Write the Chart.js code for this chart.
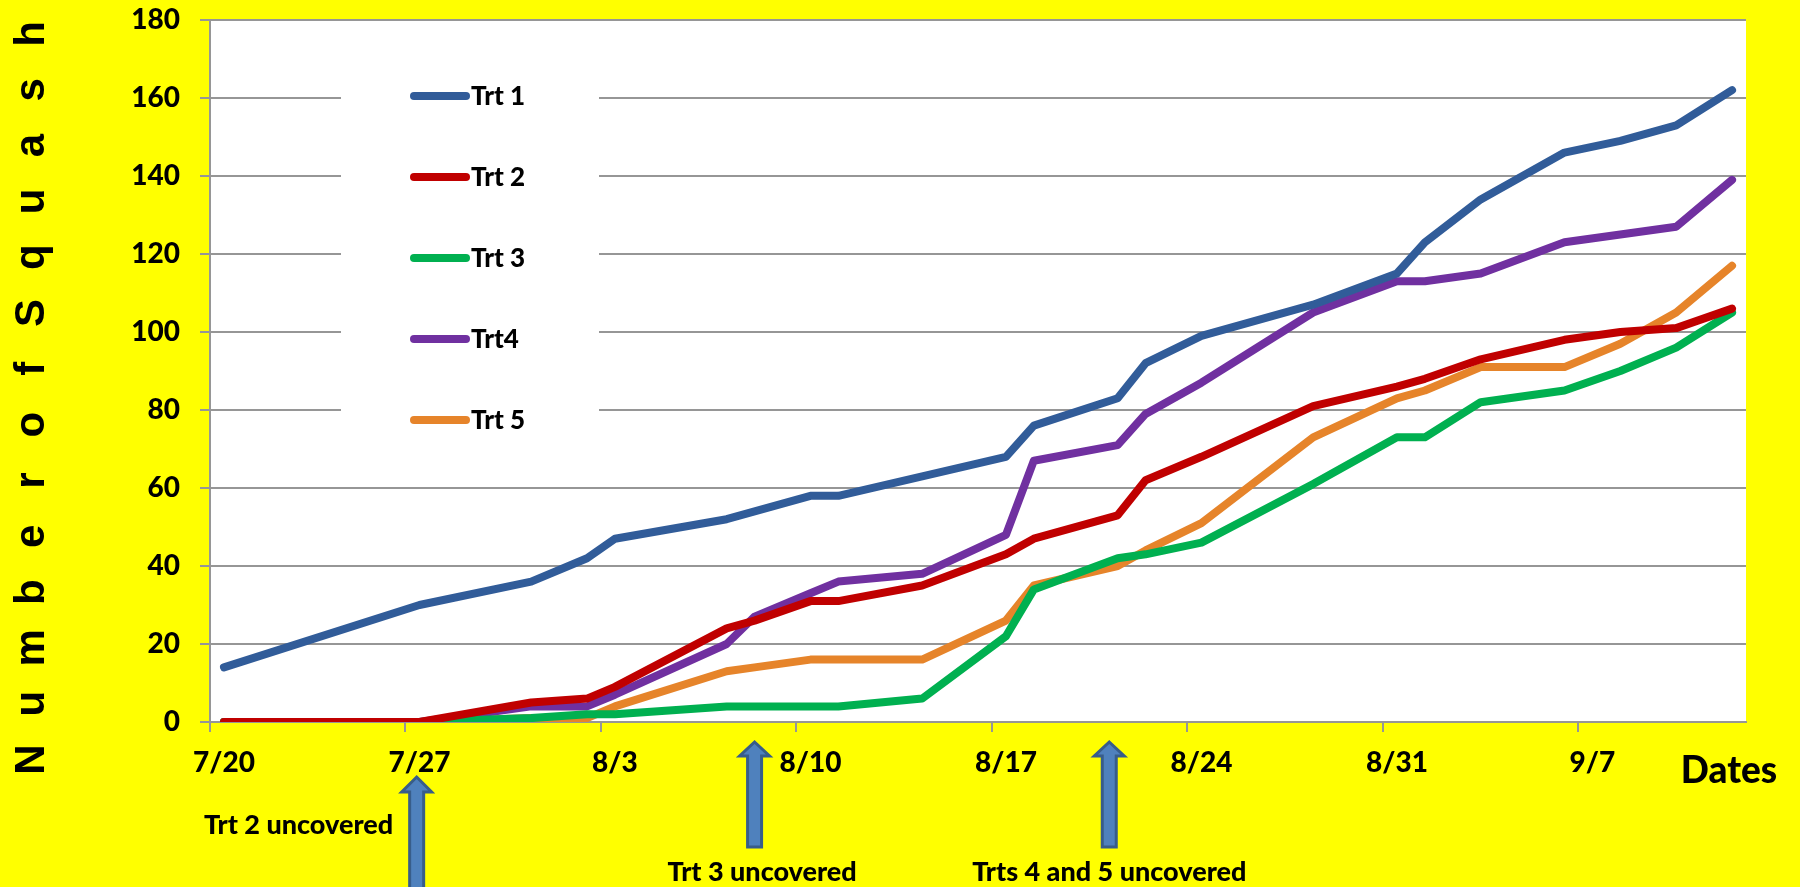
<!DOCTYPE html>
<html>
<head>
<meta charset="utf-8">
<script src="https://cdn.jsdelivr.net/npm/chart.js@4"></script>
<style>
  html, body { margin: 0; padding: 0; background: #FFFF00; }
  #wrap { width: 1800px; height: 887px; position: relative; }
  canvas { display: block; }
</style>
</head>
<body>
<div id="wrap"><canvas id="squash" width="1800" height="887"></canvas></div>
<script>
// Harvest dates (count taken on each date)
const sampleDates = ['7/20','7/27','7/31','8/2','8/3','8/7','8/8','8/10','8/11','8/14','8/17','8/18',
                     '8/21','8/22','8/24','8/28','8/31','9/1','9/3','9/6','9/8','9/10','9/12'];

// Cumulative number of squash per treatment
const trt1 = [14,30,36,42,47,52,54,58,58,63,68,76,83,92,99,107,115,123,134,146,149,153,162];
const trt2 = [0,0,5,6,9,24,26,31,31,35,43,47,53,62,68,81,86,88,93,98,100,101,106];
const trt3 = [0,0,1,2,2,4,4,4,4,6,22,34,42,43,46,61,73,73,82,85,90,96,105];
const trt4 = [0,0,4,4,7,20,27,33,36,38,48,67,71,79,87,105,113,113,115,123,125,127,139];
const trt5 = [0,0,1,1,4,13,14,16,16,16,26,35,40,44,51,73,83,85,91,91,97,105,117];

const seriesNames  = ['Trt 1','Trt 2','Trt 3','Trt4','Trt 5'];
const seriesValues = [trt1, trt2, trt3, trt4, trt5];
const seriesColors = ['#315C99','#C00000','#00B050','#7030A0','#E6842A'];

// Day-by-day axis from 7/20 to 9/12, labelled weekly
const axisStart = new Date(2012, 6, 20);
const axisDayCount = 55;
const labelEvery = 7;
const axisDays = [];
for (let i = 0; i < axisDayCount; i++) {
  const d = new Date(axisStart.getFullYear(), axisStart.getMonth(), axisStart.getDate() + i);
  axisDays.push((d.getMonth() + 1) + '/' + d.getDate());
}

const yMin = 0, yMax = 180, yStep = 20;

// Cover-removal notes: arrow position in axis-day units, text centre in axis-day units
const notes = [
  { text: 'Trt 2 uncovered',        arrowDay: 6.9,  textDay: 2.67,  tipY: 777, headY: 792, footY: 890, textY: 825 },
  { text: 'Trt 3 uncovered',        arrowDay: 19.0, textDay: 19.27, tipY: 742, headY: 756, footY: 847, textY: 872 },
  { text: 'Trts 4 and 5 uncovered', arrowDay: 31.7, textDay: 31.7,  tipY: 742, headY: 756, footY: 847, textY: 872 }
];

const FONT = 'Lato, "Open Sans", sans-serif';
const WEIGHT = '900';
const GRID = '#969696';

const plotBackground = {
  id: 'plotBackground',
  beforeDraw(chart) {
    const { ctx, chartArea: a } = chart;
    ctx.save();
    ctx.fillStyle = '#FFFFFF';
    ctx.fillRect(a.left, a.top, a.right - a.left, a.bottom - a.top);
    ctx.restore();
  }
};

const boxedLegend = {
  id: 'boxedLegend',
  beforeDatasetsDraw(chart) {
    const { ctx } = chart;
    ctx.save();
    ctx.fillStyle = '#FFFFFF';
    ctx.fillRect(341, 56, 258, 404);
    chart.data.datasets.forEach((ds, i) => {
      const y = 96 + i * 81;
      ctx.strokeStyle = ds.borderColor;
      ctx.lineWidth = 8;
      ctx.lineCap = 'round';
      ctx.beginPath();
      ctx.moveTo(414, y);
      ctx.lineTo(466, y);
      ctx.stroke();
      ctx.fillStyle = '#000';
      ctx.font = WEIGHT + ' 26px ' + FONT;
      ctx.textAlign = 'left';
      ctx.textBaseline = 'middle';
      ctx.fillText(ds.label, 471, y + 1);
    });
    ctx.restore();
  }
};

const chartNotes = {
  id: 'chartNotes',
  afterDraw(chart) {
    const { ctx } = chart;
    const xs = chart.scales.x;
    ctx.save();

    // vertical axis title, one letter per slot
    const title = 'Number of Squash';
    const letters = title.replace(/ /g, '').split('');
    const yFirst = 759.5, yLast = 34;
    const stepY = (yFirst - yLast) / (letters.length - 1);
    ctx.font = 'bold 42px "Liberation Sans", Arial, sans-serif';
    ctx.fillStyle = '#000';
    ctx.textAlign = 'center';
    ctx.textBaseline = 'alphabetic';
    letters.forEach((ch, i) => {
      ctx.save();
      ctx.translate(44, yFirst - i * stepY);
      ctx.rotate(-Math.PI / 2);
      ctx.fillText(ch, 0, 0);
      ctx.restore();
    });

    // horizontal axis title
    ctx.font = WEIGHT + ' 37px ' + FONT;
    ctx.textAlign = 'center';
    ctx.textBaseline = 'middle';
    ctx.fillText('Dates', 1729, 771);

    // arrows and notes
    notes.forEach(n => {
      const xc = xs.getPixelForValue(n.arrowDay);
      ctx.beginPath();
      ctx.moveTo(xc, n.tipY);
      ctx.lineTo(xc + 15, n.headY);
      ctx.lineTo(xc + 7, n.headY);
      ctx.lineTo(xc + 7, n.footY);
      ctx.lineTo(xc - 7, n.footY);
      ctx.lineTo(xc - 7, n.headY);
      ctx.lineTo(xc - 15, n.headY);
      ctx.closePath();
      ctx.fillStyle = '#4F81BD';
      ctx.fill();
      ctx.lineWidth = 3;
      ctx.lineJoin = 'miter';
      ctx.strokeStyle = '#385D8A';
      ctx.stroke();

      ctx.fillStyle = '#000';
      ctx.font = WEIGHT + ' 27px ' + FONT;
      ctx.textAlign = 'center';
      ctx.textBaseline = 'middle';
      ctx.fillText(n.text, xs.getPixelForValue(n.textDay), n.textY);
    });
    ctx.restore();
  }
};

function build() {
  const datasets = seriesNames.map((name, s) => ({
    label: name,
    data: sampleDates.map((d, i) => ({ x: d, y: seriesValues[s][i] })),
    borderColor: seriesColors[s],
    backgroundColor: seriesColors[s],
    borderWidth: 8,
    borderJoinStyle: 'round',
    borderCapStyle: 'round',
    pointRadius: 0,
    pointHoverRadius: 0,
    tension: 0,
    fill: false,
    clip: { left: 6, right: 6, top: 6, bottom: 0 }
  }));

  new Chart(document.getElementById('squash'), {
    type: 'line',
    data: { labels: axisDays, datasets },
    options: {
      responsive: false,
      animation: false,
      devicePixelRatio: 1,
      layout: { padding: { left: 0, top: 20, right: 54, bottom: 0 } },
      plugins: { legend: { display: false }, tooltip: { enabled: false }, title: { display: false } },
      scales: {
        x: {
          type: 'category',
          offset: true,
          grid: {
            offset: true,
            drawOnChartArea: false,
            tickLength: 10,
            lineWidth: 2,
            color: c => (c.index % labelEvery === 0 ? GRID : 'rgba(0,0,0,0)')
          },
          border: { color: GRID, width: 2 },
          ticks: {
            autoSkip: false,
            maxRotation: 0,
            minRotation: 0,
            padding: 14,
            color: '#000',
            font: { family: FONT, weight: WEIGHT, size: 28 },
            callback: (v, i) => (i % labelEvery === 0 ? axisDays[i] : '')
          },
          afterFit: s => { s.height = 165; s.paddingLeft = 0; s.paddingRight = 0; }
        },
        y: {
          min: yMin,
          max: yMax,
          grid: { color: GRID, lineWidth: 2, tickLength: 10 },
          border: { color: GRID, width: 2 },
          ticks: {
            stepSize: yStep,
            padding: 20,
            color: '#000',
            font: { family: FONT, weight: WEIGHT, size: 28 }
          },
          afterFit: s => { s.width = 210; s.paddingTop = 0; s.paddingBottom = 0; }
        }
      }
    },
    plugins: [plotBackground, boxedLegend, chartNotes]
  });
}

if (document.fonts && document.fonts.load) {
  Promise.all([
    document.fonts.load(WEIGHT + ' 28px Lato'),
    document.fonts.load('bold 42px "Liberation Sans"')
  ]).then(build, build);
} else {
  build();
}
</script>
</body>
</html>
